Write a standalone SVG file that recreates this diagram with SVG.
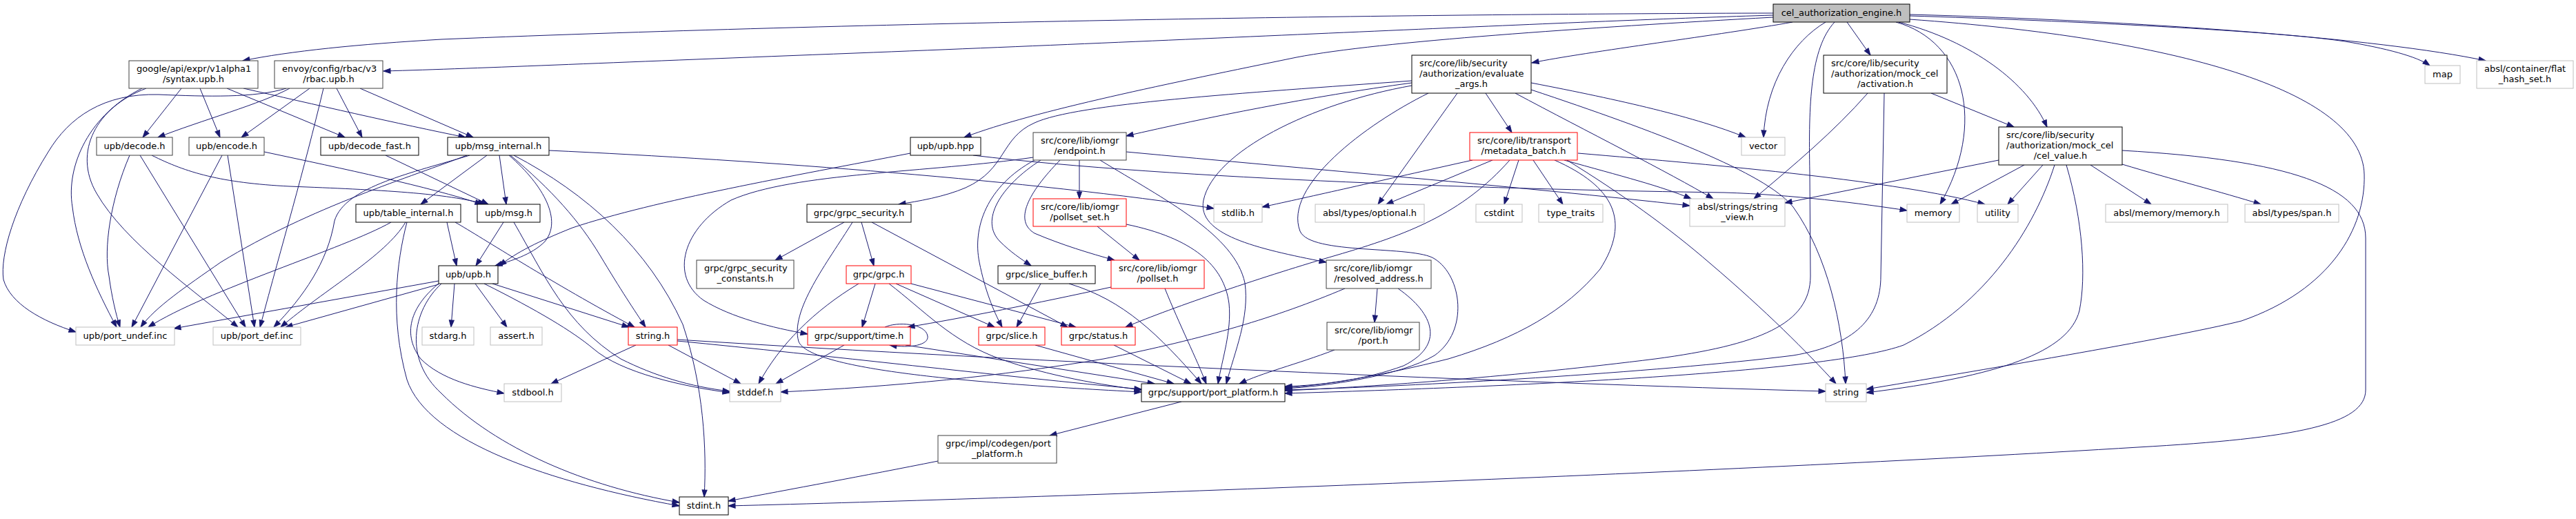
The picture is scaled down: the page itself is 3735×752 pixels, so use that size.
<svg xmlns="http://www.w3.org/2000/svg" width="3735" height="752" viewBox="0 0 3735 752">
<style>
rect{stroke-width:1}
.k{fill:#fff;stroke:#404040}
.kb{fill:#fff;stroke:#000}
.g{fill:#fff;stroke:#bfbfbf}
.r{fill:#fff;stroke:#ff0000}
.root{fill:#bfbfbf;stroke:#000}
text{font-family:"DejaVu Sans","Liberation Sans",sans-serif;font-size:13px;fill:#000}
.c{text-anchor:middle}
.e{fill:none;stroke:#191970;stroke-width:1;marker-end:url(#ah)}
</style>
<defs>
<marker id="ah" markerUnits="userSpaceOnUse" markerWidth="12" markerHeight="9" refX="10" refY="3.5" orient="auto" overflow="visible">
<path d="M0,0 L10,3.5 L0,7 z" fill="#191970" stroke="#191970" stroke-width="1"/>
</marker>
</defs>
<rect x="0" y="0" width="3735" height="752" fill="#fff"/>
<g id="edges">
<path class="e" d="M2571,19 C2100,20 1300,30 640,57 C520,64 420,74 352,88"/>
<path class="e" d="M2571,22 C2300,30 1800,55 1240,77 C900,90 700,99 556,103"/>
<path class="e" d="M2571,25 C2300,40 2000,60 1880,83 C1700,120 1500,160 1398,199"/>
<path class="e" d="M2599,32 C2500,50 2300,75 2221,91"/>
<path class="e" d="M2678,32 L2712,80"/>
<path class="e" d="M2647,32 C2600,60 2560,120 2557,199"/>
<path class="e" d="M2749,32 C2850,60 2880,180 2813,296"/>
<path class="e" d="M2753,32 C2860,60 2940,120 2968,184"/>
<path class="e" d="M2769,23 C3000,30 3300,45 3400,60 C3460,70 3505,82 3523,95"/>
<path class="e" d="M2769,21 C3100,30 3450,55 3604,88"/>
<path class="e" d="M2769,28 C3150,55 3425,130 3428,253 C3430,330 3380,420 3250,465 C3150,490 2850,540 2706,564"/>
<path class="e" d="M2660,32 C2625,70 2622,150 2624,250 L2625,400 C2625,470 2550,500 2400,520 C2200,545 2000,560 1863,566"/>
<path class="e" d="M2047,117 C1800,135 1560,150 1500,178 C1450,200 1460,245 1400,272 C1370,285 1330,292 1303,296"/>
<path class="e" d="M2047,120 C1900,140 1750,170 1633,197"/>
<path class="e" d="M2047,124 C1900,150 1760,220 1745,290 C1735,340 1820,360 1923,380"/>
<path class="e" d="M2071,135 C1980,180 1860,270 1885,335 C1900,370 2050,355 2080,375 C2120,400 2130,480 2080,515 C2030,545 1920,560 1863,563"/>
<path class="e" d="M2113,135 L1998,296"/>
<path class="e" d="M2154,135 L2192,192"/>
<path class="e" d="M2197,135 C2300,190 2420,250 2484,288"/>
<path class="e" d="M2220,120 C2350,145 2460,170 2531,199"/>
<path class="e" d="M2220,130 C2400,190 2560,250 2600,300 C2650,370 2672,470 2676,556"/>
<path class="e" d="M2135,232 C2000,262 1900,285 1830,300"/>
<path class="e" d="M2164,232 L2010,296"/>
<path class="e" d="M2189,232 C2120,310 2040,340 1937,370 C1840,398 1700,445 1632,474"/>
<path class="e" d="M2202,232 L2181,296"/>
<path class="e" d="M2223,232 L2266,296"/>
<path class="e" d="M2254,232 C2340,270 2365,320 2320,390 C2270,450 2200,490 2100,520 C2000,545 1920,558 1863,562"/>
<path class="e" d="M2268,232 C2350,255 2410,270 2452,288"/>
<path class="e" d="M2272,232 C2350,280 2420,330 2480,382 C2560,450 2620,510 2662,556"/>
<path class="e" d="M2288,222 C2500,240 2750,262 2878,296"/>
<path class="e" d="M1498,228 C1350,250 1150,250 1060,290 C990,330 970,400 1020,435 C1060,460 1120,475 1171,484"/>
<path class="e" d="M1500,232 C1430,270 1410,330 1420,380 C1428,420 1440,450 1453,474"/>
<path class="e" d="M1509,232 C1450,270 1420,320 1450,350 C1465,365 1480,375 1495,385"/>
<path class="e" d="M1537,232 C1490,280 1470,320 1500,338 C1540,355 1580,367 1616,377"/>
<path class="e" d="M1565,232 L1565,288"/>
<path class="e" d="M1595,232 C1690,290 1790,340 1805,410 C1812,460 1790,510 1778,556"/>
<path class="e" d="M1633,220 C1900,245 2200,270 2450,298"/>
<path class="e" d="M1591,328 L1652,377"/>
<path class="e" d="M1633,325 C1730,345 1775,385 1782,440 C1786,480 1772,520 1766,556"/>
<path class="e" d="M1611,416 C1500,440 1400,460 1316,474"/>
<path class="e" d="M1689,418 C1710,470 1735,520 1749,556"/>
<path class="e" d="M1997,418 L1993,467"/>
<path class="e" d="M2027,418 C2080,455 2095,500 2035,530 C1980,550 1920,558 1863,560"/>
<path class="e" d="M1950,418 C1850,460 1750,490 1600,520 C1450,545 1300,560 1132,568"/>
<path class="e" d="M1935,507 C1880,528 1830,540 1797,556"/>
<path class="e" d="M2708,135 C2660,190 2600,240 2543,288"/>
<path class="e" d="M2732,135 L2727,400 C2727,460 2690,500 2600,515 C2400,540 2050,560 1863,565"/>
<path class="e" d="M2800,135 L2920,184"/>
<path class="e" d="M2898,232 L2588,294"/>
<path class="e" d="M2935,239 L2829,296"/>
<path class="e" d="M2962,239 L2911,296"/>
<path class="e" d="M2979,239 C2950,330 2880,440 2760,500 C2650,540 2200,560 1863,570"/>
<path class="e" d="M2996,239 C3020,320 3025,400 3015,450 C3000,510 2900,545 2706,569"/>
<path class="e" d="M3031,239 L3119,296"/>
<path class="e" d="M3077,238 C3150,260 3220,278 3278,296"/>
<path class="e" d="M3077,218 C3320,232 3430,270 3430,345 L3430,565 C3430,615 3330,635 3100,648 C2500,685 1500,722 1056,733"/>
<path class="e" d="M206,128 C130,165 95,240 105,300 C112,360 140,420 169,474"/>
<path class="e" d="M212,128 C140,155 105,220 140,280 C180,350 280,420 345,474"/>
<path class="e" d="M263,128 L207,199"/>
<path class="e" d="M290,128 L319,199"/>
<path class="e" d="M329,128 L500,199"/>
<path class="e" d="M353,128 C450,150 580,180 675,199"/>
<path class="e" d="M415,128 C370,142 300,140 230,137 C150,135 100,170 70,220 C20,300 0,370 5,405 C15,440 60,465 110,481"/>
<path class="e" d="M420,128 C380,150 290,175 229,199"/>
<path class="e" d="M449,128 L350,199"/>
<path class="e" d="M469,128 C440,250 410,350 377,474"/>
<path class="e" d="M488,128 L525,199"/>
<path class="e" d="M522,128 L686,199"/>
<path class="e" d="M188,225 C160,290 150,360 158,400 C162,430 168,455 174,474"/>
<path class="e" d="M203,225 L356,474"/>
<path class="e" d="M220,225 C270,250 320,265 420,270 C550,275 650,280 703,296"/>
<path class="e" d="M322,225 L191,474"/>
<path class="e" d="M330,225 L369,474"/>
<path class="e" d="M383,220 C500,245 620,270 699,296"/>
<path class="e" d="M559,225 L708,296"/>
<path class="e" d="M677,225 C600,255 450,300 320,380 C270,415 225,445 204,474"/>
<path class="e" d="M681,225 C600,250 500,270 485,320 C475,380 440,430 397,474"/>
<path class="e" d="M706,225 L610,296"/>
<path class="e" d="M724,225 L734,296"/>
<path class="e" d="M738,225 C790,270 815,320 790,350 C770,370 740,378 718,385"/>
<path class="e" d="M740,225 C800,275 840,320 870,370 C900,420 920,450 936,474"/>
<path class="e" d="M745,225 C850,280 940,360 990,470 C1020,560 1025,650 1021,720"/>
<path class="e" d="M796,218 C1100,232 1500,262 1760,302"/>
<path class="e" d="M567,322 C500,360 300,420 215,474"/>
<path class="e" d="M588,322 C560,370 470,420 407,474"/>
<path class="e" d="M590,322 C575,380 565,460 590,550 C620,640 800,700 985,733"/>
<path class="e" d="M648,322 L662,385"/>
<path class="e" d="M660,322 C700,345 800,410 920,474"/>
<path class="e" d="M730,322 L690,385"/>
<path class="e" d="M745,322 C790,400 820,470 900,520 C950,545 1000,560 1058,567"/>
<path class="e" d="M636,407 L252,476"/>
<path class="e" d="M636,412 L414,474"/>
<path class="e" d="M659,411 L654,474"/>
<path class="e" d="M689,411 L735,474"/>
<path class="e" d="M714,411 L912,474"/>
<path class="e" d="M702,411 C780,450 830,480 860,505 C900,540 990,560 1058,569"/>
<path class="e" d="M637,410 C600,440 580,480 610,520 C640,550 690,562 731,570"/>
<path class="e" d="M640,411 C598,450 585,520 640,570 C720,650 850,705 985,728"/>
<path class="e" d="M922,500 L799,556"/>
<path class="e" d="M969,500 L1074,556"/>
<path class="e" d="M982,492 C1500,525 2200,555 2647,567"/>
<path class="e" d="M982,494 C1200,515 1450,545 1655,564"/>
<path class="e" d="M1224,500 L1125,556"/>
<path class="e" d="M1313,500 L1674,556"/>
<path class="e" d="M1283,474 C1300,466 1342,468 1345,487 C1347,500 1320,505 1290,500"/>
<path class="e" d="M1224,322 L1124,377"/>
<path class="e" d="M1236,322 C1200,380 1145,450 1158,495 C1175,535 1400,555 1655,568"/>
<path class="e" d="M1249,322 L1267,385"/>
<path class="e" d="M1264,322 L1548,474"/>
<path class="e" d="M1269,411 L1250,474"/>
<path class="e" d="M1245,411 C1180,450 1130,500 1100,556"/>
<path class="e" d="M1299,411 L1442,474"/>
<path class="e" d="M1321,411 L1560,474"/>
<path class="e" d="M1289,411 C1340,450 1380,495 1450,520 C1520,545 1600,558 1655,565"/>
<path class="e" d="M1509,411 L1474,474"/>
<path class="e" d="M1550,411 C1630,435 1680,485 1742,556"/>
<path class="e" d="M1501,500 L1702,556"/>
<path class="e" d="M1615,500 L1727,556"/>
<path class="e" d="M1713,582 L1522,631"/>
<path class="e" d="M1360,668 C1250,690 1150,708 1056,726"/>
<path class="e" d="M1320,222 C1150,255 950,290 830,330 C780,350 750,365 724,385"/>
<path class="e" d="M1411,225 C1700,260 2200,275 2500,279 C2600,282 2700,295 2765,305"/>
</g>
<g id="n_cel"><rect class="root" x="2571" y="6" width="198" height="26"/><text class="c" x="2670" y="23">cel_authorization_engine.h</text></g>
<g id="n_syntax"><rect class="k" x="187" y="88" width="187" height="40"/><text x="198" y="104">google/api/expr/v1alpha1</text><text class="c" x="280.5" y="119">/syntax.upb.h</text></g>
<g id="n_rbac"><rect class="k" x="398" y="88" width="157" height="40"/><text x="409" y="104">envoy/config/rbac/v3</text><text class="c" x="476.5" y="119">/rbac.upb.h</text></g>
<g id="n_evaluate_args"><rect class="kb" x="2047" y="80" width="173" height="55"/><text x="2058" y="96">src/core/lib/security</text><text x="2058" y="111">/authorization/evaluate</text><text class="c" x="2133.5" y="125.5">_args.h</text></g>
<g id="n_activation"><rect class="kb" x="2644" y="80" width="179" height="55"/><text x="2655" y="96">src/core/lib/security</text><text x="2655" y="111">/authorization/mock_cel</text><text class="c" x="2733.5" y="125.5">/activation.h</text></g>
<g id="n_map"><rect class="g" x="3516" y="95" width="51" height="26"/><text class="c" x="3541.5" y="112">map</text></g>
<g id="n_flat_hash_set"><rect class="g" x="3591" y="88" width="140" height="40"/><text x="3602" y="104">absl/container/flat</text><text class="c" x="3661" y="119">_hash_set.h</text></g>
<g id="n_decode"><rect class="k" x="140" y="199" width="110" height="26"/><text class="c" x="195" y="216">upb/decode.h</text></g>
<g id="n_encode"><rect class="k" x="274" y="199" width="109" height="26"/><text class="c" x="328.5" y="216">upb/encode.h</text></g>
<g id="n_decode_fast"><rect class="kb" x="465" y="199" width="142" height="26"/><text class="c" x="536" y="216">upb/decode_fast.h</text></g>
<g id="n_msg_internal"><rect class="kb" x="649" y="199" width="147" height="26"/><text class="c" x="722.5" y="216">upb/msg_internal.h</text></g>
<g id="n_upb_hpp"><rect class="kb" x="1320" y="199" width="102" height="26"/><text class="c" x="1371" y="216">upb/upb.hpp</text></g>
<g id="n_endpoint"><rect class="k" x="1498" y="192" width="135" height="40"/><text x="1509" y="208">src/core/lib/iomgr</text><text class="c" x="1565.5" y="223">/endpoint.h</text></g>
<g id="n_metadata_batch"><rect class="r" x="2131" y="192" width="156" height="40"/><text x="2142" y="208">src/core/lib/transport</text><text class="c" x="2209" y="223">/metadata_batch.h</text></g>
<g id="n_vector"><rect class="g" x="2525" y="199" width="63" height="26"/><text class="c" x="2556.5" y="216">vector</text></g>
<g id="n_cel_value"><rect class="kb" x="2898" y="184" width="179" height="55"/><text x="2909" y="200">src/core/lib/security</text><text x="2909" y="215">/authorization/mock_cel</text><text class="c" x="2987.5" y="229.5">/cel_value.h</text></g>
<g id="n_table_internal"><rect class="kb" x="516" y="296" width="152" height="26"/><text class="c" x="592" y="313">upb/table_internal.h</text></g>
<g id="n_msg"><rect class="kb" x="692" y="296" width="91" height="26"/><text class="c" x="737.5" y="313">upb/msg.h</text></g>
<g id="n_grpc_security"><rect class="kb" x="1170" y="296" width="151" height="26"/><text class="c" x="1245.5" y="313">grpc/grpc_security.h</text></g>
<g id="n_pollset_set"><rect class="r" x="1498" y="288" width="135" height="40"/><text x="1509" y="304">src/core/lib/iomgr</text><text class="c" x="1565.5" y="319">/pollset_set.h</text></g>
<g id="n_stdlib"><rect class="g" x="1760" y="296" width="70" height="26"/><text class="c" x="1795" y="313">stdlib.h</text></g>
<g id="n_optional"><rect class="g" x="1907" y="296" width="158" height="26"/><text class="c" x="1986" y="313">absl/types/optional.h</text></g>
<g id="n_cstdint"><rect class="g" x="2140" y="296" width="67" height="26"/><text class="c" x="2173.5" y="313">cstdint</text></g>
<g id="n_type_traits"><rect class="g" x="2231" y="296" width="93" height="26"/><text class="c" x="2277.5" y="313">type_traits</text></g>
<g id="n_string_view"><rect class="g" x="2450" y="288" width="138" height="40"/><text x="2461" y="304">absl/strings/string</text><text class="c" x="2519" y="319">_view.h</text></g>
<g id="n_memory"><rect class="g" x="2765" y="296" width="76" height="26"/><text class="c" x="2803" y="313">memory</text></g>
<g id="n_utility"><rect class="g" x="2867" y="296" width="59" height="26"/><text class="c" x="2896.5" y="313">utility</text></g>
<g id="n_absl_memory"><rect class="g" x="3053" y="296" width="177" height="26"/><text class="c" x="3141.5" y="313">absl/memory/memory.h</text></g>
<g id="n_span"><rect class="g" x="3255" y="296" width="136" height="26"/><text class="c" x="3323" y="313">absl/types/span.h</text></g>
<g id="n_upb_h"><rect class="kb" x="636" y="385" width="86" height="26"/><text class="c" x="679" y="402">upb/upb.h</text></g>
<g id="n_security_constants"><rect class="k" x="1010" y="377" width="141" height="41"/><text x="1021" y="393">grpc/grpc_security</text><text class="c" x="1080.5" y="408">_constants.h</text></g>
<g id="n_grpc_h"><rect class="r" x="1227" y="385" width="94" height="26"/><text class="c" x="1274" y="402">grpc/grpc.h</text></g>
<g id="n_slice_buffer"><rect class="kb" x="1447" y="385" width="141" height="26"/><text class="c" x="1517.5" y="402">grpc/slice_buffer.h</text></g>
<g id="n_pollset"><rect class="r" x="1611" y="377" width="135" height="41"/><text x="1622" y="393">src/core/lib/iomgr</text><text class="c" x="1678.5" y="408">/pollset.h</text></g>
<g id="n_resolved_address"><rect class="k" x="1923" y="377" width="152" height="41"/><text x="1934" y="393">src/core/lib/iomgr</text><text class="c" x="1999" y="408">/resolved_address.h</text></g>
<g id="n_port_undef"><rect class="g" x="110" y="474" width="143" height="26"/><text class="c" x="181.5" y="491">upb/port_undef.inc</text></g>
<g id="n_port_def"><rect class="g" x="309" y="474" width="127" height="26"/><text class="c" x="372.5" y="491">upb/port_def.inc</text></g>
<g id="n_stdarg"><rect class="g" x="612" y="474" width="75" height="26"/><text class="c" x="649.5" y="491">stdarg.h</text></g>
<g id="n_assert"><rect class="g" x="711" y="474" width="75" height="26"/><text class="c" x="748.5" y="491">assert.h</text></g>
<g id="n_string_h"><rect class="r" x="911" y="474" width="71" height="26"/><text class="c" x="946.5" y="491">string.h</text></g>
<g id="n_time"><rect class="r" x="1171" y="474" width="149" height="26"/><text class="c" x="1245.5" y="491">grpc/support/time.h</text></g>
<g id="n_slice"><rect class="r" x="1419" y="474" width="96" height="26"/><text class="c" x="1467" y="491">grpc/slice.h</text></g>
<g id="n_status"><rect class="r" x="1539" y="474" width="107" height="26"/><text class="c" x="1592.5" y="491">grpc/status.h</text></g>
<g id="n_port_h"><rect class="k" x="1924" y="467" width="134" height="40"/><text x="1935" y="483">src/core/lib/iomgr</text><text class="c" x="1991" y="498">/port.h</text></g>
<g id="n_stdbool"><rect class="g" x="731" y="556" width="83" height="26"/><text class="c" x="772.5" y="573">stdbool.h</text></g>
<g id="n_stddef"><rect class="g" x="1058" y="556" width="74" height="26"/><text class="c" x="1095" y="573">stddef.h</text></g>
<g id="n_port_platform"><rect class="kb" x="1655" y="556" width="208" height="26"/><text class="c" x="1759" y="573">grpc/support/port_platform.h</text></g>
<g id="n_string"><rect class="g" x="2647" y="556" width="59" height="26"/><text class="c" x="2676.5" y="573">string</text></g>
<g id="n_codegen_port_platform"><rect class="k" x="1360" y="631" width="172" height="40"/><text x="1371" y="647">grpc/impl/codegen/port</text><text class="c" x="1446" y="662">_platform.h</text></g>
<g id="n_stdint"><rect class="kb" x="985" y="720" width="71" height="26"/><text class="c" x="1020.5" y="737">stdint.h</text></g>
</svg>
